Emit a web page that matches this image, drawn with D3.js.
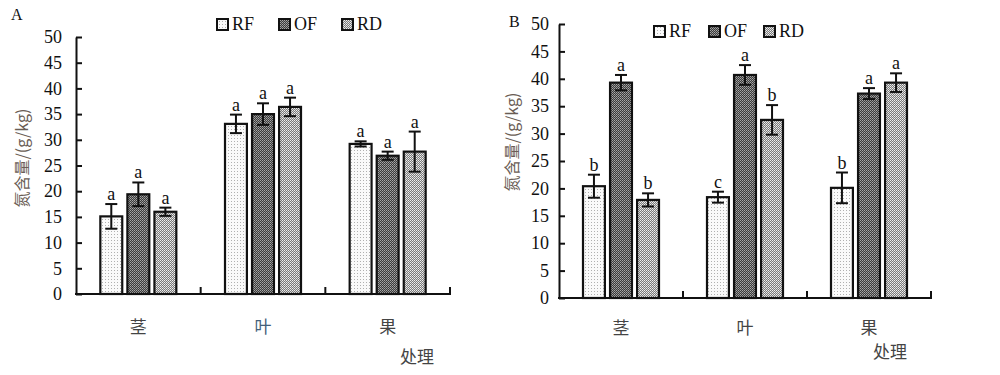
<html>
<head>
<meta charset="UTF-8" />
<script src="https://d3js.org/d3.v7.min.js"></script>
<style>
    body { margin: 0; background: white; }
    text { font-family: "Liberation Serif", "DejaVu Serif", serif; }
    .cn { font-family: "Noto Sans CJK SC", sans-serif; fill: #444; }
</style>
</head>
<body>
<svg id="chart" width="1000" height="375"></svg>
<script>
    // data
    const categories = ['茎', '叶', '果'];
    const series = ['RF', 'OF', 'RD'];
    const yTicks = [0, 5, 10, 15, 20, 25, 30, 35, 40, 45, 50];

    // panel A values (per series, per category)
    const rfA = [15.1, 33.1, 29.2];
    const ofA = [19.4, 35.0, 26.9];
    const rdA = [16.0, 36.4, 27.7];
    const rfErrA = [2.4, 1.8, 0.5];
    const ofErrA = [2.3, 2.1, 0.8];
    const rdErrA = [0.8, 1.8, 3.9];
    const rfLetA = ['a', 'a', 'a'];
    const ofLetA = ['a', 'a', 'a'];
    const rdLetA = ['a', 'a', 'a'];

    // panel B values
    const rfB = [20.4, 18.4, 20.1];
    const ofB = [39.3, 40.7, 37.3];
    const rdB = [17.9, 32.5, 39.3];
    const rfErrB = [2.1, 1.0, 2.8];
    const ofErrB = [1.4, 1.8, 1.0];
    const rdErrB = [1.2, 2.7, 1.7];
    const rfLetB = ['b', 'c', 'b'];
    const ofLetB = ['a', 'a', 'a'];
    const rdLetB = ['b', 'b', 'a'];

    const svg = d3.select('svg#chart');

    // fill patterns
    const defs = svg.append('defs');
    const pRF = defs.append('pattern').attr('id', 'pRF').attr('patternUnits', 'userSpaceOnUse')
        .attr('width', 3).attr('height', 3);
    pRF.append('rect').attr('width', 3).attr('height', 3).attr('fill', '#fafafa');
    pRF.append('rect').attr('width', 1).attr('height', 1).attr('fill', '#b0b0b0');

    const pOF = defs.append('pattern').attr('id', 'pOF').attr('patternUnits', 'userSpaceOnUse')
        .attr('width', 2).attr('height', 2);
    pOF.append('rect').attr('width', 2).attr('height', 2).attr('fill', '#3c3c3c');
    pOF.append('rect').attr('width', 1).attr('height', 1).attr('fill', '#a8a8a8');
    pOF.append('rect').attr('x', 1).attr('y', 1).attr('width', 1).attr('height', 1).attr('fill', '#8a8a8a');

    const pRD = defs.append('pattern').attr('id', 'pRD').attr('patternUnits', 'userSpaceOnUse')
        .attr('width', 2).attr('height', 2);
    pRD.append('rect').attr('width', 2).attr('height', 2).attr('fill', '#7a7a7a');
    pRD.append('rect').attr('width', 1).attr('height', 1).attr('fill', '#f0f0f0');
    pRD.append('rect').attr('x', 1).attr('y', 1).attr('width', 1).attr('height', 1).attr('fill', '#d4d4d4');

    const fills = {RF: 'url(#pRF)', OF: 'url(#pOF)', RD: 'url(#pRD)'};

    function drawPanel(opt) {
        const g = svg.append('g');
        const xScale = d3.scaleBand().domain(categories).range([opt.x0, opt.x1]);
        const yScale = d3.scaleLinear().domain([0, 50]).range([opt.y0, opt.y1]);

        // y axis, ticks pointing inward
        const yAxis = d3.axisLeft(yScale).tickValues(yTicks).tickSizeInner(-6).tickSizeOuter(0)
            .tickPadding(opt.pad);
        const ya = g.append('g').attr('transform', `translate(${opt.x0},0)`).call(yAxis);
        ya.attr('font-size', null).attr('font-family', null);
        ya.select('.domain').attr('stroke', '#111').attr('stroke-width', 2);
        ya.selectAll('.tick line').attr('stroke', '#111').attr('stroke-width', 2);
        ya.selectAll('.tick text').attr('font-size', 18).attr('fill', '#111');

        // bars
        const inner = d3.scaleBand().domain(series).paddingInner(0.19);
        const vals = {RF: opt.rf, OF: opt.of, RD: opt.rd};
        const errs = {RF: opt.rfErr, OF: opt.ofErr, RD: opt.rdErr};
        const lets = {RF: opt.rfLet, OF: opt.ofLet, RD: opt.rdLet};

        categories.forEach((c, ci) => {
            const cx = xScale(c) + xScale.bandwidth() / 2;
            inner.range([cx - 38, cx + 38]);
            series.forEach(s => {
                const v = vals[s][ci];
                const e = errs[s][ci];
                const bx = inner(s);
                const bw = inner.bandwidth();
                g.append('rect')
                    .attr('x', bx).attr('y', yScale(v))
                    .attr('width', bw).attr('height', yScale(0) - yScale(v))
                    .attr('fill', fills[s]).attr('stroke', '#111').attr('stroke-width', 2.2);
                const mx = bx + bw / 2;
                g.append('line').attr('x1', mx).attr('x2', mx)
                    .attr('y1', yScale(v + e)).attr('y2', yScale(v - e))
                    .attr('stroke', '#111').attr('stroke-width', 2);
                [v + e, v - e].forEach(t => {
                    g.append('line').attr('x1', mx - 6).attr('x2', mx + 6)
                        .attr('y1', yScale(t)).attr('y2', yScale(t))
                        .attr('stroke', '#111').attr('stroke-width', 2);
                });
                g.append('text').attr('x', mx).attr('y', yScale(v + e) - 4)
                    .attr('text-anchor', 'middle').attr('font-size', 18).attr('fill', '#111')
                    .text(lets[s][ci]);
            });
        });

        // x axis with boundary ticks pointing up
        g.append('line').attr('x1', opt.x0 - 1).attr('x2', opt.x1 + 1)
            .attr('y1', opt.y0).attr('y2', opt.y0)
            .attr('stroke', '#111').attr('stroke-width', 2);
        categories.forEach(c => {
            const tx = xScale(c) + xScale.bandwidth();
            g.append('line').attr('x1', tx).attr('x2', tx)
                .attr('y1', opt.y0).attr('y2', opt.y0 - 7)
                .attr('stroke', '#111').attr('stroke-width', 2);
            g.append('text').attr('class', 'cn')
                .attr('x', xScale(c) + xScale.bandwidth() / 2).attr('y', opt.catY)
                .attr('text-anchor', 'middle').attr('font-size', 17)
                .attr('dominant-baseline', 'central')
                .style('fill', c === '叶' && opt.blueLeaf ? '#44607a' : '#444')
                .text(c);
        });

        // axis titles
        g.append('text').attr('class', 'cn')
            .attr('transform', `translate(${opt.yLabX},${opt.yLabY}) rotate(-90)`)
            .attr('text-anchor', 'middle').attr('dominant-baseline', 'central')
            .attr('font-size', 16).style('fill', '#6a5d55')
            .text('氮含量/(g/kg)');
        g.append('text').attr('class', 'cn')
            .attr('x', opt.xLabX).attr('y', opt.xLabY)
            .attr('text-anchor', 'middle').attr('dominant-baseline', 'central')
            .attr('font-size', 17).text('处理');

        // panel letter
        g.append('text').attr('x', opt.tagX).attr('y', opt.tagY)
            .attr('font-size', 16).attr('fill', '#111').text(opt.tag);

        // legend
        series.forEach((s, i) => {
            const lx = opt.legX[i];
            g.append('rect').attr('x', lx).attr('y', opt.legY)
                .attr('width', 11).attr('height', 11)
                .attr('fill', fills[s]).attr('stroke', '#111').attr('stroke-width', 2);
            g.append('text').attr('x', lx + 15).attr('y', opt.legY + 11)
                .attr('font-size', 18).attr('fill', '#111').text(s);
        });
    }

    drawPanel({
        x0: 76, x1: 450, y0: 294, y1: 37, pad: 14,
        rf: rfA, of: ofA, rd: rdA,
        rfErr: rfErrA, ofErr: ofErrA, rdErr: rdErrA,
        rfLet: rfLetA, ofLet: ofLetA, rdLet: rdLetA,
        catY: 325, blueLeaf: true,
        yLabX: 21, yLabY: 158, xLabX: 417, xLabY: 355,
        tag: 'A', tagX: 11, tagY: 20,
        legX: [217, 279, 342], legY: 19
    });

    drawPanel({
        x0: 559, x1: 931, y0: 298, y1: 24, pad: 10,
        rf: rfB, of: ofB, rd: rdB,
        rfErr: rfErrB, ofErr: ofErrB, rdErr: rdErrB,
        rfLet: rfLetB, ofLet: ofLetB, rdLet: rdLetB,
        catY: 326, blueLeaf: false,
        yLabX: 511, yLabY: 142, xLabX: 890, xLabY: 350,
        tag: 'B', tagX: 509, tagY: 27,
        legX: [654, 709, 764], legY: 26
    });
</script>
</body>
</html>
